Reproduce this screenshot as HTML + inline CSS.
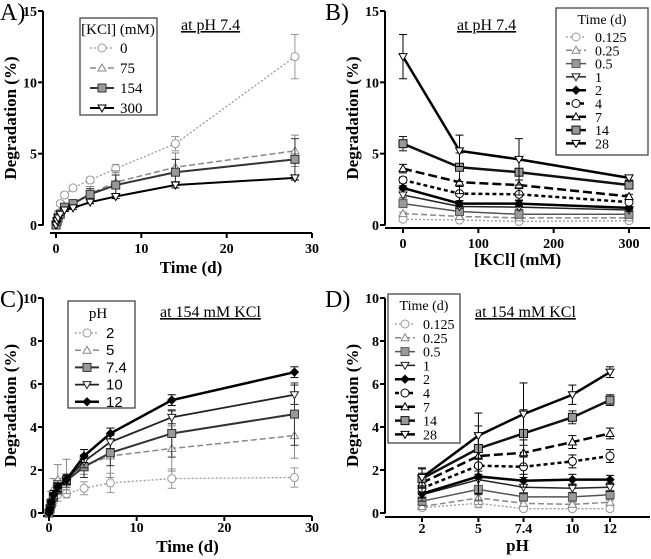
<!DOCTYPE html>
<html><head><meta charset="utf-8">
<style>
body{margin:0;background:#fff;}
svg{display:block;font-family:"Liberation Serif",serif;}
.tk{font-weight:bold;font-size:14px;}
.at{font-weight:bold;font-size:17px;}
</style></head><body>
<svg id="c" width="651" height="559" viewBox="0 0 651 559"></svg>
<script>
// ---- data ----
const times = [0,0.125,0.25,0.5,1,2,4,7,14,28];
const timeLabels = ["0.125","0.25","0.5","1","2","4","7","14","28"];
const kclLevels = [0,75,154,300];
const kcl0   = [0,0.4,0.8,1.5,2.1,2.6,3.15,3.95,5.7,11.8];
const kcl75  = [0,0.35,0.6,0.95,1.3,1.5,2.2,3.0,4.05,5.2];
const kcl154 = [0,0.25,0.5,0.75,1.25,1.5,2.15,2.8,3.7,4.6];
const kcl300 = [0,0.3,0.5,0.75,1.05,1.2,1.6,2.0,2.8,3.3];
const kcl0Err   = [0,0.1,0.1,0.15,0.2,0.15,0.2,0.3,0.5,1.55];
const kcl75Err  = [0,0.1,0.1,0.1,0.15,0.2,0.5,0.8,1.0,1.1];
const kcl154Err = [0,0.1,0.1,0.1,0.15,0.2,0.4,0.7,0.9,1.45];
const kcl300Err = [0,0.05,0.05,0.1,0.1,0.1,0.1,0.15,0.2,0.15];
const phLevels = [2,5,7.4,10,12];
const ph2  = [0,0.25,0.3,0.55,0.85,0.9,1.15,1.4,1.6,1.65];
const ph5  = [0,0.45,0.7,1.1,1.55,1.7,2.2,2.65,3.0,3.6];
const ph74 = [0,0.2,0.45,0.75,1.2,1.5,2.15,2.8,3.7,4.6];
const ph10 = [0,0.2,0.4,0.75,1.15,1.55,2.4,3.3,4.45,5.5];
const ph12 = [0,0.2,0.5,0.85,1.2,1.55,2.65,3.7,5.25,6.55];
const ph2Err  = [0,0.1,0.1,0.2,0.3,0.2,0.3,0.45,0.45,0.45];
const ph5Err  = [0,0.2,0.3,0.5,0.7,0.8,0.4,1.0,1.05,1.05];
const ph74Err = [0,0.1,0.1,0.2,0.3,0.3,0.5,0.6,1.1,1.45];
const ph10Err = [0,0.1,0.1,0.2,0.2,0.25,0.3,0.3,0.3,0.45];
const ph12Err = [0,0.1,0.1,0.2,0.2,0.2,0.3,0.25,0.25,0.25];
const kclTickX = [0,10,20,30], kclTickY=[0,5,10,15];
const kclAxisTicks=[0,100,200,300];
const phTickY=[0,2,4,6,8,10];
// ---- styles ----
const NS="http://www.w3.org/2000/svg";
const svg=document.getElementById('c');
function el(tag,attrs,parent,name){const e=document.createElementNS(NS,tag);for(const k in attrs)e.setAttribute(k,attrs[k]);


(parent||svg).appendChild(e);return e;}
const S9=[
 {c:'#999',w:1.3,d:'2,2',m:'circle',f:'#fff'},
 {c:'#888',w:1.5,d:'6,3',m:'tri',f:'#fff'},
 {c:'#555',w:1.5,d:'',m:'square',f:'#999'},
 {c:'#222',w:1.5,d:'',m:'dtri',f:'#fff'},
 {c:'#000',w:2.5,d:'',m:'diamond',f:'#000'},
 {c:'#000',w:2.5,d:'4,3',m:'circle',f:'#fff'},
 {c:'#000',w:2.5,d:'9,4',m:'tri',f:'#fff'},
 {c:'#111',w:2.5,d:'',m:'square',f:'#999'},
 {c:'#000',w:2.5,d:'',m:'dtri',f:'#fff'}];
const SA=[S9[0],S9[1],{c:'#333',w:2,d:'',m:'square',f:'#999'},{c:'#000',w:2,d:'',m:'dtri',f:'#fff'}];
const SC=[S9[0],S9[1],{c:'#333',w:2,d:'',m:'square',f:'#999'},{c:'#222',w:1.8,d:'',m:'dtri',f:'#fff'},{c:'#000',w:2.5,d:'',m:'diamond',f:'#000'}];
function marker(g,x,y,s,name){
 const r=4;const a={fill:s.f,stroke:s.c,'stroke-width':1};
 if(s.m==='circle')el('circle',{cx:x,cy:y,r:r,...a},g,name);
 else if(s.m==='square')el('rect',{x:x-r,y:y-r,width:2*r,height:2*r,...a},g,name);
 else if(s.m==='tri')el('polygon',{points:`${x},${y-r} ${x-r},${y+r-1} ${x+r},${y+r-1}`,...a},g,name);
 else if(s.m==='dtri')el('polygon',{points:`${x},${y+r} ${x-r},${y-r+1} ${x+r},${y-r+1}`,...a},g,name);
 else el('polygon',{points:`${x},${y-r} ${x-r},${y} ${x},${y+r} ${x+r},${y}`,...a},g,name);
}
function panel(P){
 const g=el('g',{},svg,P.id);
 const sx=v=>P.x0+(v-P.xmin)/(P.xmax-P.xmin)*(P.x1-P.x0);
 const sy=v=>P.y0-(v-0)/(P.ymax)*(P.y0-P.y1);
 el('line',{x1:P.ax,y1:sy(0)+0.5,x2:P.ax,y2:sy(P.ymax),stroke:'#000','stroke-width':2},g,'y-axis');
 el('line',{x1:P.axx0,y1:P.ay,x2:P.axx1,y2:P.ay,stroke:'#000','stroke-width':2},g,'x-axis');
 P.yt.forEach(v=>{el('line',{x1:P.ax-5,y1:sy(v),x2:P.ax,y2:sy(v),stroke:'#000','stroke-width':2},g,'y-tick');
  const t=el('text',{x:P.ax-6,y:sy(v)+5,'text-anchor':'end',class:'tk'},g,'y-tick-label');t.textContent=v;});
 P.xt.forEach((v,i)=>{el('line',{x1:sx(v),y1:P.ay,x2:sx(v),y2:P.ay+5,stroke:'#000','stroke-width':2},g,'x-tick');
  const t=el('text',{x:sx(v),y:P.ay+P.tlo,'text-anchor':'middle',class:'tk'},g,'x-tick-label');t.textContent=P.xtl?P.xtl[i]:v;});
 let t=el('text',{x:(P.axx0+P.axx1)/2+P.xtOff,y:P.ay+P.tto,'text-anchor':'middle',class:'at'},g,'x-axis-title');t.textContent=P.xtitle;
 t=el('text',{x:0,y:0,'text-anchor':'middle',class:'at',transform:`translate(${P.ax-27},${(sy(0)+sy(P.ymax))/2}) rotate(-90)`},g,'y-axis-title');t.textContent='Degradation (%)';
 t=el('text',{x:P.lx,y:P.ly,'font-size':24},g,'panel-label');t.textContent=P.label;
 t=el('text',{x:P.nx,y:P.ny,'font-size':16,'text-decoration':'underline'},g,'condition-note');t.textContent=P.note;
 P.series.forEach((s,i)=>{
  const st=P.styles[i];const pts=s.ys.map((y,j)=>[sx(s.xs[j]),sy(y)]);
  pts.forEach((p,j)=>{const e=s.err[j];if(e>0){el('line',{x1:p[0],y1:sy(s.ys[j]-e),x2:p[0],y2:sy(s.ys[j]+e),stroke:st.c,'stroke-width':1},g,'error-bar');
   [s.ys[j]-e,s.ys[j]+e].forEach(v=>el('line',{x1:p[0]-4,y1:sy(v),x2:p[0]+4,y2:sy(v),stroke:st.c,'stroke-width':1},g,'error-cap'));}});
  el('polyline',{points:pts.map(p=>p.join(',')).join(' '),fill:'none',stroke:st.c,'stroke-width':st.w,'stroke-dasharray':st.d},g,'series-line-'+s.name);
  pts.forEach(p=>marker(g,p[0],p[1],st,'point-'+s.name));
 });
 const L=P.leg;
 el('rect',{x:L.x,y:L.y,width:L.w,height:L.h,fill:'#fff',stroke:'#444','stroke-width':1.3},g,'legend-box');
 t=el('text',{x:L.hx,y:L.hy,'font-size':L.fs,'text-anchor':'middle'},g,'legend-title');t.textContent=L.title;
 P.series.forEach((s,i)=>{const st=P.styles[i];const y=L.ey0+i*L.dy;
  el('line',{x1:L.sx0,y1:y,x2:L.sx1,y2:y,stroke:st.c,'stroke-width':st.w,'stroke-dasharray':st.d},g,'legend-line');
  marker(g,(L.sx0+L.sx1)/2,y,st,'legend-marker');
  const tt=el('text',{x:L.tx,y:y+5,'font-size':L.fs,'font-family':L.ff||'Liberation Serif'},g,'legend-label');tt.textContent=s.label;});
}
const kclRows=[kcl0,kcl75,kcl154,kcl300], kclErr=[kcl0Err,kcl75Err,kcl154Err,kcl300Err];
const phRows=[ph2,ph5,ph74,ph10,ph12], phErr=[ph2Err,ph5Err,ph74Err,ph10Err,ph12Err];
panel({id:'panel-a',x0:56,x1:312,xmin:0,xmax:30,y0:225,y1:11,ymax:15,ax:43,ay:233,axx0:50,axx1:312,xtOff:10,tlo:20,tto:40,
 yt:kclTickY,xt:kclTickX,xtitle:'Time (d)',label:'A)',lx:0,ly:20,note:'at pH 7.4',nx:181,ny:30,styles:SA,
 series:kclRows.map((r,i)=>({name:'kcl-'+kclLevels[i],label:String(kclLevels[i]),xs:times,ys:r,err:kclErr[i]})),
 leg:{x:80,y:18,w:77,h:97,title:'[KCl] (mM)',hx:118,hy:34,ey0:48,dy:20,sx0:90,sx1:114,tx:120,fs:15}});
panel({id:'panel-b',x0:403,x1:629,xmin:0,xmax:300,y0:225,y1:11,ymax:15,ax:385,ay:228,axx0:385,axx1:650,xtOff:0,tlo:20,tto:37,
 yt:kclTickY,xt:kclAxisTicks,xtitle:'[KCl] (mM)',label:'B)',lx:325,ly:20,note:'at pH 7.4',nx:457,ny:30,styles:S9,
 series:timeLabels.map((lb,j)=>({name:'time-'+lb,label:lb,xs:kclLevels,ys:kclRows.map(r=>r[j+1]),err:kclErr.map(r=>r[j+1])})),
 leg:{x:556,y:8,w:92,h:147,title:'Time (d)',hx:602,hy:24,ey0:37,dy:13.3,sx0:566,sx1:586,tx:595,fs:14}});
panel({id:'panel-c',x0:49,x1:312,xmin:0,xmax:30,y0:513,y1:298,ymax:10,ax:43,ay:516,axx0:43,axx1:312,xtOff:10,tlo:16,tto:36,
 yt:phTickY,xt:kclTickX,xtitle:'Time (d)',label:'C)',lx:0,ly:307,note:'at 154 mM KCl',nx:160,ny:317,styles:SC,
 series:phRows.map((r,i)=>({name:'ph-'+phLevels[i],label:String(phLevels[i]),xs:times,ys:r,err:phErr[i]})),
 leg:{x:68,y:301,w:67,h:107,title:'pH',hx:98,hy:318,ey0:333,dy:17.2,sx0:75,sx1:99,tx:106,fs:15,ff:'Liberation Sans'}});
panel({id:'panel-d',x0:422,x1:610,xmin:2,xmax:12,y0:513,y1:298,ymax:10,ax:385,ay:517,axx0:385,axx1:650,xtOff:0,tlo:16,tto:34,
 yt:phTickY,xt:phLevels,xtitle:'pH',label:'D)',lx:325,ly:307,note:'at 154 mM KCl',nx:475,ny:317,styles:S9,
 series:timeLabels.map((lb,j)=>({name:'time-'+lb,label:lb,xs:phLevels,ys:phRows.map(r=>r[j+1]),err:phErr.map(r=>r[j+1])})),
 leg:{x:388,y:294,w:72,h:149,title:'Time (d)',hx:424,hy:310,ey0:324,dy:13.8,sx0:395,sx1:415,tx:423,fs:14}});
</script>
</body></html>
